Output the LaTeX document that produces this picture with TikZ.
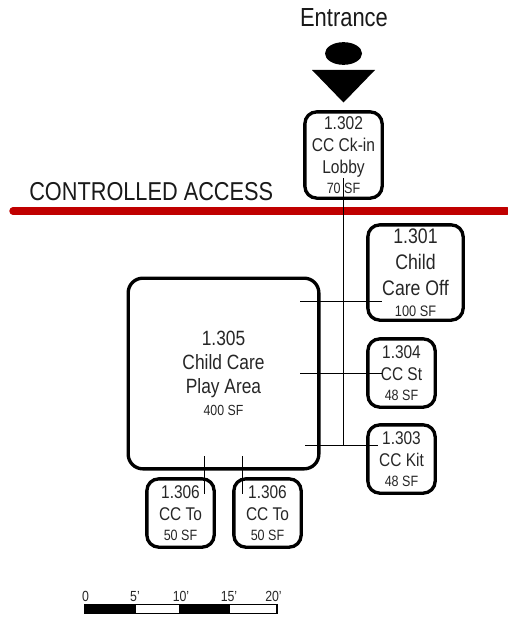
\documentclass[tikz,border=0pt]{standalone}
\usepackage{fontspec}
\setmainfont[FakeStretch=0.84]{Liberation Sans}
\usetikzlibrary{shapes.geometric}
\newcommand\sz[1]{\fontsize{#1}{\baselineskip}\selectfont}
\tikzset{
  room/.style={draw=black,line width=2.5pt,rounded corners=9pt,inner sep=0pt,align=center,text=black!85},
  pitch/.style={font=\fontsize{13pt}{#1}\selectfont},
  wire/.style={draw=black,line width=0.75pt},
  title/.style={inner sep=0pt,anchor=base,font=\fontsize{19.6pt}{22pt}\selectfont,text=black!90},
  tick/.style={inner sep=0pt,anchor=base,font=\fontsize{11pt}{12pt}\selectfont,text=black!85},
  barblack/.style={draw=black,fill=black,line width=1pt},
  barwhite/.style={draw=black,fill=white,line width=1pt}
}
\begin{document}
\begin{tikzpicture}[x=0.75pt,y=-0.75pt]
\useasboundingbox (0,0) rectangle (507,617);
% red access line
\draw[line width=5.6pt,draw={rgb,255:red,192;green,0;blue,0},line cap=round] (13,211) -- (507,211);
% entrance
\node[title] (entrance) at (344,27) {Entrance};
\node[ellipse,fill=black,inner sep=0pt,minimum width=27.75pt,minimum height=17pt] (dot) at (343.5,53.5) {};
\fill[black] (312,70) -- (375,70) -- (343.5,102.5) -- cycle;
\node[title,anchor=base west,font=\fontsize{19.4pt}{22pt}\selectfont] (access) at (29,200) {CONTROLLED ACCESS};
% rooms
\node[room,pitch=16.5pt,minimum width=58pt,minimum height=64.75pt] (r1302) at (343.5,155)
 {\sz{13.9pt}1.302\\ \sz{13.9pt}CC Ck-in\\ \sz{13.9pt}Lobby\\[-1pt] \sz{11.2pt}70 SF};
\node[room,pitch=19.5pt,minimum width=71.5pt,minimum height=71.5pt] (r1301) at (415.5,272.5)
 {\sz{15.8pt}1.301\\ \sz{15.8pt}Child\\ \sz{15.8pt}Care Off\\[-4pt] \sz{11.4pt}100 SF};
\node[room,pitch=16.5pt,minimum width=50.5pt,minimum height=51.25pt] (r1304) at (401.5,373)
 {\sz{13.8pt}1.304\\ \sz{13.8pt}CC St\\[-1.5pt] \sz{11.2pt}48 SF};
\node[room,pitch=16.5pt,minimum width=50.5pt,minimum height=51.25pt] (r1303) at (401.5,459)
 {\sz{13.8pt}1.303\\ \sz{13.8pt}CC Kit\\[-1.5pt] \sz{11.2pt}48 SF};
\node[room,rounded corners=11pt,pitch=18pt,minimum width=143pt,minimum height=143pt] (r1305) at (223.5,373.5)
 {\sz{15.5pt}1.305\\ \sz{15.5pt}Child Care\\ \sz{15.5pt}Play Area\\[-2pt] \sz{11pt}400 SF};
\node[room,pitch=16.5pt,minimum width=50.5pt,minimum height=51.25pt] (r1306a) at (180.5,513)
 {\sz{13.8pt}1.306\\ \sz{13.8pt}CC To\\[-1.5pt] \sz{11.2pt}50 SF};
\node[room,pitch=16.5pt,minimum width=50.5pt,minimum height=51.25pt] (r1306b) at (267.5,513)
 {\sz{13.8pt}1.306\\ \sz{13.8pt}CC To\\[-1.5pt] \sz{11.2pt}50 SF};
% connectors
\coordinate (spinetop) at (343.5,178);
\coordinate (spinebot) at (343.5,445);
\coordinate (offa) at (300,301);
\coordinate (offb) at (382,301);
\coordinate (sta) at (300,373.5);
\coordinate (stb) at (382,373.5);
\coordinate (kita) at (305,445);
\coordinate (kitb) at (378,445);
\coordinate (toa) at (204.5,456);
\coordinate (tob) at (204.5,494);
\coordinate (tc) at (242.5,456);
\coordinate (td) at (242.5,494);
\draw[wire] (spinetop) -- (spinebot);
\draw[wire] (offa) -- (offb);
\draw[wire] (sta) -- (stb);
\draw[wire] (kita) -- (kitb);
\draw[wire] (toa) -- (tob);
\draw[wire] (tc) -- (td);
% scale bar
\draw[barblack] (84.5,604.5) rectangle (135,613.5);
\draw[barwhite] (135,604.5) rectangle (180,613.5);
\draw[barblack] (180,604.5) rectangle (229,613.5);
\draw[barwhite] (229,604.5) rectangle (277,613.5);
\node[tick] (t0) at (85.5,601) {0};
\node[tick] (t5) at (135,601) {5'};
\node[tick] (t10) at (181,601) {10'};
\node[tick] (t15) at (229,601) {15'};
\node[tick] (t20) at (273.5,601) {20'};
\end{tikzpicture}
\end{document}
